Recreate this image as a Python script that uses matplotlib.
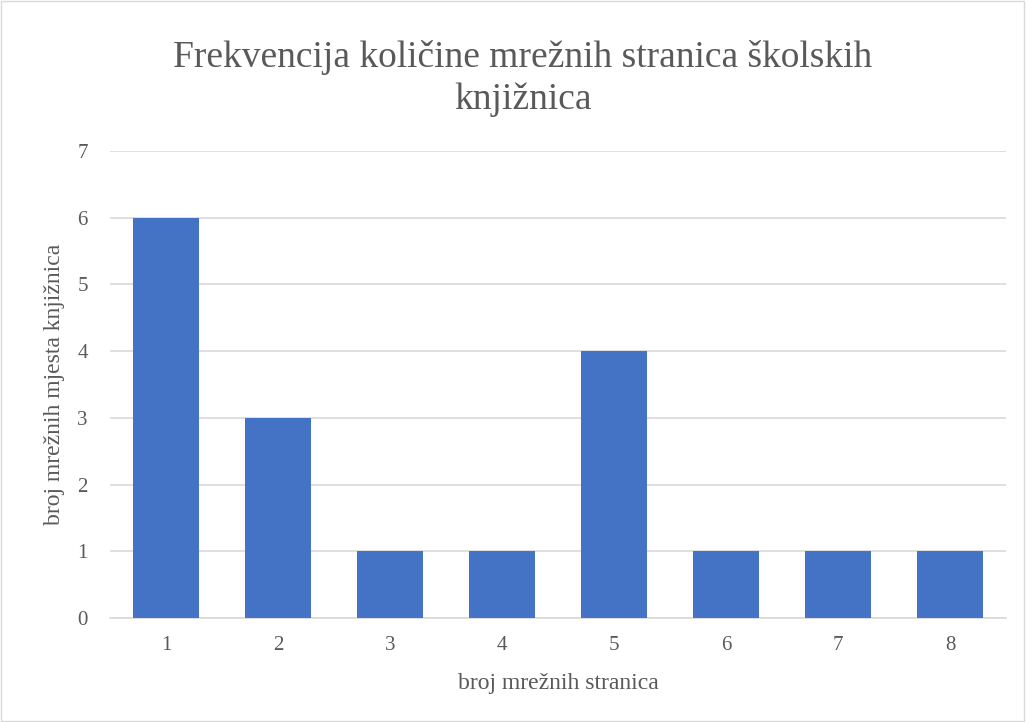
import matplotlib.pyplot as plt
from matplotlib.patches import Rectangle

plt.rcParams["font.family"] = ["Liberation Serif", "DejaVu Serif"]

# Podaci
kategorije = ["1", "2", "3", "4", "5", "6", "7", "8"]
vrijednosti = [6, 3, 1, 1, 4, 1, 1, 1]

naslov = "Frekvencija količine mrežnih stranica školskih\nknjižnica"
x_oznaka = "broj mrežnih stranica"
y_oznaka = "broj mrežnih mjesta knjižnica"

siva = "#595959"

fig = plt.figure(figsize=(10.26, 7.22), dpi=100)
ax = fig.add_axes([0.1072, 0.144, 0.8733, 0.647])

pozicije = list(range(1, len(kategorije) + 1))
ax.bar(pozicije, vrijednosti, width=0.59, color="#4472C4", zorder=3)

ax.set_xlim(0.5, len(kategorije) + 0.5)
ax.set_ylim(0, 7)
ax.set_yticks(range(0, 8))
ax.set_xticks(pozicije)
ax.set_xticklabels(kategorije)

ax.grid(axis="y", color="#d9d9d9", linewidth=1.2, zorder=0)
for s in ["top", "right", "left"]:
    ax.spines[s].set_visible(False)
ax.spines["bottom"].set_color("#d9d9d9")
ax.spines["bottom"].set_linewidth(1.2)
ax.tick_params(axis="both", length=0, labelsize=15, colors=siva)
ax.tick_params(axis="x", pad=13)
ax.tick_params(axis="y", pad=16)

ax.set_xlabel(x_oznaka, fontsize=17, color=siva)
ax.set_ylabel(y_oznaka, fontsize=17, color=siva)
ax.xaxis.set_label_coords(0.5, -0.118)
ax.yaxis.set_label_coords(-0.05, 0.5)

fig.text(0.5097, 0.891, naslov, ha="center", va="center", fontsize=27,
         color=siva, linespacing=1.3)

# okvir grafikona
fig.patches.append(Rectangle((0.001, 0.001), 0.997, 0.997, transform=fig.transFigure,
                             fill=False, edgecolor="#d9d9d9", linewidth=1))

plt.savefig("out.png", dpi=100)
plt.close()
